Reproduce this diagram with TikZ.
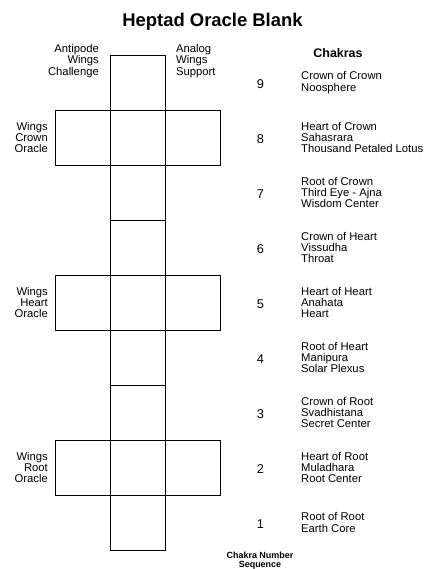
\documentclass[tikz,border=0pt]{standalone}
\usepackage{fontspec}
\setmainfont{Liberation Sans}
\usepackage{tikz}
\usetikzlibrary{positioning}

\tikzset{
    cell/.style={draw, line width=0.8pt, minimum width=55bp, minimum height=55bp, inner sep=0pt, outer sep=0pt},
    bodytext/.style={font=\fontsize{11.3}{11.5}\selectfont, inner sep=0pt},
    numtext/.style={font=\fontsize{12.8}{14}\selectfont, inner sep=0pt}
}

\begin{document}
\begin{tikzpicture}[x=1bp, y=-1bp]

\useasboundingbox (0,0) rectangle (425,569);

% Title
\node[font=\fontsize{18.5}{20}\selectfont\bfseries] (title) at (212.5, 22) {Heptad Oracle Blank};

% Central column of nine cells (row 1 at the bottom)
\foreach \n in {1,...,9} {
    \node[cell] (cell\n) at (137.5, 577.5-55*\n) {};
}

% Wing cells on rows 2, 5 and 8
\foreach \n in {2,5,8} {
    \node[cell] (left\n) at (82.5, 577.5-55*\n) {};
    \node[cell] (right\n) at (192.5, 577.5-55*\n) {};
}

% Top labels
\node[bodytext, align=right, anchor=east] (antipode) at (99, 61) {Antipode\\Wings\\Challenge};
\node[bodytext, align=left, anchor=west] (analog) at (176, 61) {Analog\\Wings\\Support};

% Left wing labels
\node[bodytext, align=right, anchor=east] (wingscrown) at (48, 137.5) {Wings\\Crown\\Oracle};
\node[bodytext, align=right, anchor=east] (wingsheart) at (48, 302.5) {Wings\\Heart\\Oracle};
\node[bodytext, align=right, anchor=east] (wingsroot) at (48, 467.5) {Wings\\Root\\Oracle};

% Chakras list
\node[font=\fontsize{12.5}{14}\selectfont\bfseries] (chakras) at (338, 53) {Chakras};
\foreach \n/\chakra in {
    9/{Crown of Crown\\Noosphere},
    8/{Heart of Crown\\Sahasrara\\Thousand Petaled Lotus},
    7/{Root of Crown\\Third Eye - Ajna\\Wisdom Center},
    6/{Crown of Heart\\Vissudha\\Throat},
    5/{Heart of Heart\\Anahata\\Heart},
    4/{Root of Heart\\Manipura\\Solar Plexus},
    3/{Crown of Root\\Svadhistana\\Secret Center},
    2/{Heart of Root\\Muladhara\\Root Center},
    1/{Root of Root\\Earth Core}} {
    \node[numtext] (num\n) at (260.5, 579.5-55*\n) {\n};
    \node[bodytext, align=left, anchor=west] (chakra\n) at (301, 577.5-55*\n) {\chakra};
}

% Bottom caption
\node[font=\fontsize{9}{9.5}\selectfont\bfseries, align=center, inner sep=0pt] (sequence) at (260, 560.5) {Chakra Number\\Sequence};

\end{tikzpicture}
\end{document}
